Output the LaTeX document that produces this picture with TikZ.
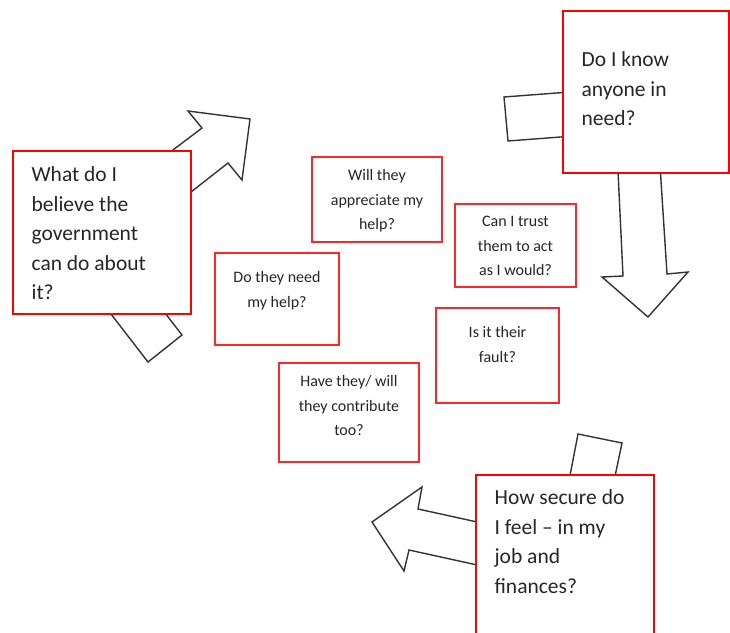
\documentclass[tikz,border=0pt]{standalone}
\usepackage{fontspec}
\setmainfont{Carlito}
\usetikzlibrary{positioning}
\begin{document}
\begin{tikzpicture}[x=1pt,y=-1pt]
\tikzstyle{every node}=[inner sep=0pt]
\tikzstyle{bigbox}=[draw=red,fill=white,line width=1.2pt]
\tikzstyle{smallbox}=[draw=red!85,fill=white,line width=1.5pt]
\tikzstyle{bigtext}=[align=left,font=\fontsize{21.5}{29.5}\selectfont,text=black!85]
\tikzstyle{smalltext}=[align=center,font=\fontsize{16}{24.5}\selectfont,text=black!85]
\tikzstyle{blockarrow}=[draw=black!80,fill=white,line width=1.4pt]

\useasboundingbox (0,0) rectangle (730,632);
\clip (0,0) rectangle (730,632);

% block arrows, under the boxes
\draw [blockarrow] (144,172) -- (202,128) -- (188,111) -- (250,119) -- (242,180) -- (228,163) -- (154,221) -- cycle;
\draw [blockarrow] (104,305) -- (148,362) -- (182,335) -- (138,278) -- cycle;
\draw [blockarrow] (504,97) -- (508,141) -- (600,134) -- (596,90) -- cycle;
\draw [blockarrow] (617,150) -- (623,276) -- (602,277) -- (648,317) -- (688,272) -- (667,274) -- (659,150) -- cycle;
\draw [blockarrow] (578,434) -- (622,443) -- (610,500) -- (567,491) -- cycle;
\draw [blockarrow] (500,527) -- (418,509) -- (422,487) -- (372,522) -- (404,571) -- (409,550) -- (500,570) -- cycle;

% big boxes
\draw (102,232.5) node (govbox) [bigbox,minimum width=178pt,minimum height=163pt] {};
\draw (govbox.north west) node (govtext) [bigtext,below right=16pt and 19pt] {What do I\\believe the\\government\\can do about\\it?};
\draw (646,92) node (knowbox) [bigbox,minimum width=166pt,minimum height=162pt] {};
\draw (knowbox.north west) node (knowtext) [bigtext,below right=41pt and 19pt] {Do I know\\anyone in\\need?};
\draw (565,562.5) node (securebox) [bigbox,minimum width=178pt,minimum height=175pt] {};
\draw (securebox.north west) node (securetext) [bigtext,below right=15pt and 19pt] {How secure do\\I feel -- in my\\job and\\finances?};

% small boxes
\draw (377,199.5) node (appreciatebox) [smallbox,minimum width=130pt,minimum height=85pt] {};
\draw (appreciatebox.north) node (appreciatetext) [smalltext,below=13pt] {Will they\\appreciate my\\help?};
\draw (515.5,245.5) node (trustbox) [smallbox,minimum width=121pt,minimum height=83pt] {};
\draw (trustbox.north) node (trusttext) [smalltext,below=13pt] {Can I trust\\them to act\\as I would?};
\draw (277,299) node (needbox) [smallbox,minimum width=124pt,minimum height=92pt] {};
\draw (needbox.north) node (needtext) [smalltext,below=19pt] {Do they need\\my help?};
\draw (497.5,355.5) node (faultbox) [smallbox,minimum width=123pt,minimum height=95pt] {};
\draw (faultbox.north) node (faulttext) [smalltext,below=19pt] {Is it their\\fault?};
\draw (349,412.5) node (contributebox) [smallbox,minimum width=140pt,minimum height=99pt] {};
\draw (contributebox.north) node (contributetext) [smalltext,below=13pt] {Have they/ will\\they contribute\\too?};
\end{tikzpicture}
\end{document}
